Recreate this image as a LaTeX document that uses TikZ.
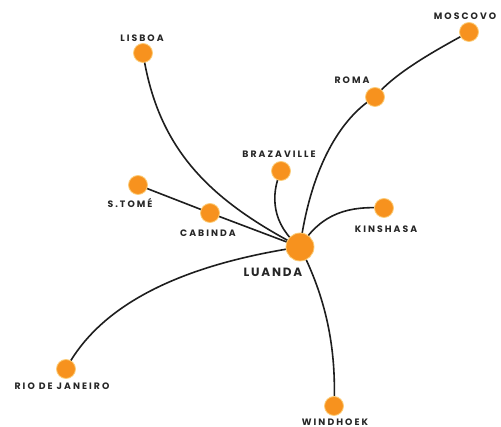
\documentclass[tikz,border=0pt]{standalone}
\usepackage{fontspec}
\setmainfont{Poppins}
\newfontfamily\lblfont[LetterSpace=22]{Poppins}
\newfontfamily\hubfont[LetterSpace=15]{Poppins}
\definecolor{dotor}{RGB}{247,146,30}
\definecolor{halo}{RGB}{252,205,120}
\definecolor{routec}{RGB}{30,30,30}
\tikzset{
  city/.style={circle, fill=dotor, draw=halo, line width=0.8pt, minimum size=19pt, inner sep=0pt},
  hub/.style={circle, fill=dotor, draw=halo, line width=0.8pt, minimum size=28pt, inner sep=0pt},
  lbl/.style={font=\lblfont\bfseries\fontsize{9.3}{11}\selectfont, text=black!85, inner sep=0pt},
  hublbl/.style={font=\hubfont\bfseries\fontsize{12}{14}\selectfont, text=black!85, inner sep=0pt},
  route/.style={draw=routec, line width=1.6pt}
}
\begin{document}
\begin{tikzpicture}[x=1pt,y=-1pt]
\useasboundingbox[fill=white] (0,0) rectangle (501,427);
% coordinates of dots
\coordinate (lu) at (300,247);
\coordinate (li) at (143,53);
\coordinate (mo) at (469,32);
\coordinate (ro) at (375,97);
\coordinate (br) at (281,171);
\coordinate (st) at (138,185);
\coordinate (ca) at (210,213);
\coordinate (ki) at (384,208);
\coordinate (ri) at (66,369);
\coordinate (wi) at (334,406);
% routes
\draw[route] (li) .. controls (158,150) and (210,200) .. (lu);
\draw[route] (br) .. controls (270,195) and (272,225) .. (lu);
\draw[route] (ki) .. controls (350,206) and (322,212) .. (lu);
\draw[route] (ro) .. controls (345,115) and (312,160) .. (lu);
\draw[route] (ro) .. controls (395,72) and (440,48) .. (mo);
\draw[route] (ri) .. controls (100,305) and (180,265) .. (lu);
\draw[route] (wi) .. controls (337,340) and (322,290) .. (lu);
\draw[route] (st) -- (ca);
\draw[route] (ca) -- (lu);
% dots
\node[hub] (nlu) at (lu) {};
\node[city] (nli) at (li) {};
\node[city] (nmo) at (mo) {};
\node[city] (nro) at (ro) {};
\node[city] (nbr) at (br) {};
\node[city] (nst) at (st) {};
\node[city] (nca) at (ca) {};
\node[city] (nki) at (ki) {};
\node[city] (nri) at (ri) {};
\node[city] (nwi) at (wi) {};
% labels
\node[hublbl] (tlu) at (273,272) {LUANDA};
\node[lbl] (tli) at (142,38) {LISBOA};
\node[lbl] (tmo) at (465,16) {MOSCOVO};
\node[lbl] (tro) at (352,80) {ROMA};
\node[lbl] (tbr) at (279,154) {BRAZAVILLE};
\node[lbl] (tst) at (130,203) {S.TOMÉ};
\node[lbl] (tca) at (208,233) {CABINDA};
\node[lbl] (tki) at (386,229) {KINSHASA};
\node[lbl] (tri) at (62,386) {RIO DE JANEIRO};
\node[lbl] (twi) at (335,422) {WINDHOEK};
\end{tikzpicture}
\end{document}
